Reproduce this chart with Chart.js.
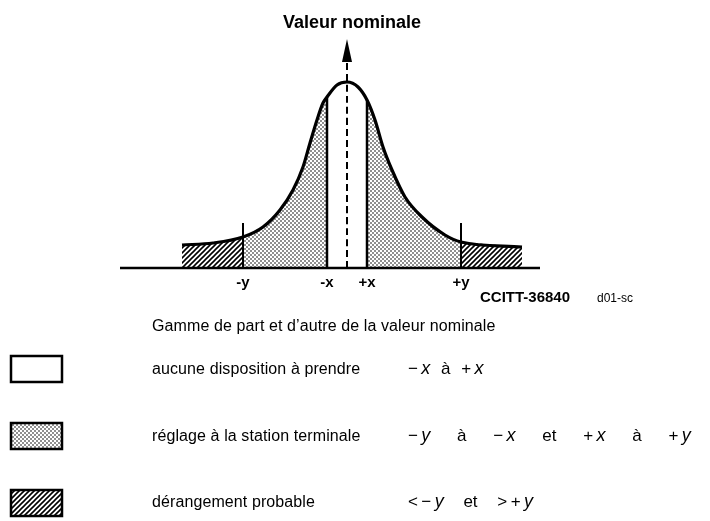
<!DOCTYPE html>
<html>
<head>
<meta charset="utf-8">
<script src="https://cdn.jsdelivr.net/npm/chart.js@4.4.1/dist/chart.umd.min.js"></script>
<style>
  body { margin: 0; background: #fff; }
  #wrap { position: relative; width: 710px; height: 521px; font-family: 'Liberation Sans', Arial, sans-serif; color: #000; }
  #chart { position: absolute; left: 0; top: 0; }
  .t { position: absolute; white-space: pre; line-height: 20px; }
  .title { font-weight: bold; font-size: 18px; }
  .leg { font-size: 16px; letter-spacing: 0.1px; }
  .rng { font-size: 17px; }
  .rng i { font-size: 18px; }
</style>
</head>
<body>
<div id="wrap">
  <canvas id="chart" width="710" height="521"></canvas>
  <div class="t title" style="left:283px; top:12px;">Valeur nominale</div>
  <div class="t" style="left:480px; top:287px; font-size:15px; font-weight:bold;">CCITT-36840</div>
  <div class="t" style="left:597px; top:288px; font-size:12px;">d01-sc</div>
  <div class="t leg" style="left:152px; top:316px;">Gamme de part et d’autre de la valeur nominale</div>
  <div class="t leg" style="left:152px; top:359px;">aucune disposition à prendre</div>
  <div class="t rng" style="left:408px; top:358px; word-spacing:6px;">−&#8201;<i>x</i> à +&#8201;<i>x</i></div>
  <div class="t leg" style="left:152px; top:426px;">réglage à la station terminale</div>
  <div class="t rng" style="left:408px; top:425px; word-spacing:22px;">−&#8201;<i>y</i> à −&#8201;<i>x</i> et +&#8201;<i>x</i> à +&#8201;<i>y</i></div>
  <div class="t leg" style="left:152px; top:492px;">dérangement probable</div>
  <div class="t rng" style="left:408px; top:491px; word-spacing:15px;">&lt;&#8201;−&#8201;<i>y</i> et &gt;&#8201;+&#8201;<i>y</i></div>
</div>
<script>
// Curve: deviation from nominal vs. height
const curveX = [-165, -134, -104, -84, -67, -54, -44, -37, -30, -24, -20, -10, 0, 11, 20, 28, 36, 45, 58, 75, 98, 114, 175];
const curveY = [23, 25, 31, 41, 58, 78, 101, 125, 148, 165, 171, 183, 186, 181, 168, 148, 121, 98, 71, 51, 33, 26, 21];

// Range limits -y, -x, +x, +y
const limitValues = [-104, -20, 20, 114];
const limitLabels = ['-y', '-x', '+x', '+y'];
const yTickHeight = 45;

const axisMin = -227;
const axisMax = 193;
const arrowTop = 229;
const arrowBase = 206;

function makeDots() {
    const c = document.createElement('canvas');
    c.width = 4; c.height = 4;
    const g = c.getContext('2d');
    g.fillStyle = '#fff';
    g.fillRect(0, 0, 4, 4);
    g.fillStyle = '#000';
    g.beginPath(); g.arc(1, 1, 0.8, 0, Math.PI * 2); g.fill();
    g.beginPath(); g.arc(3, 3, 0.8, 0, Math.PI * 2); g.fill();
    return g.createPattern(c, 'repeat');
}

function makeHatch() {
    const s = 5;
    const c = document.createElement('canvas');
    c.width = s; c.height = s;
    const g = c.getContext('2d');
    g.fillStyle = '#fff';
    g.fillRect(0, 0, s, s);
    g.strokeStyle = '#000';
    g.lineWidth = 1.6;
    g.beginPath();
    g.moveTo(0, s); g.lineTo(s, 0);
    g.moveTo(-1, 1); g.lineTo(1, -1);
    g.moveTo(s - 1, s + 1); g.lineTo(s + 1, s - 1);
    g.stroke();
    return g.createPattern(c, 'repeat');
}

function points(from, to) {
    const i0 = curveX.indexOf(from), i1 = curveX.indexOf(to);
    const out = [];
    for (let i = i0; i <= i1; i++) out.push({ x: curveX[i], y: curveY[i] });
    return out;
}

function heightAt(x) {
    return curveY[curveX.indexOf(x)];
}

document.addEventListener('DOMContentLoaded', () => {
    const dots = makeDots();
    const hatch = makeHatch();

    const base = {
        type: 'line',
        pointRadius: 0,
        borderColor: '#000',
        clip: false,
        cubicInterpolationMode: 'monotone'
    };
    const area = (data, pattern) => Object.assign({}, base, {
        data: data, fill: 'origin', backgroundColor: pattern, borderWidth: 0, order: 5
    });
    const rule = (data, width, dash) => Object.assign({}, base, {
        data: data, fill: false, borderWidth: width, borderDash: dash || [], order: 2
    });

    const datasets = [
        Object.assign({}, base, {
            data: curveX.map((x, i) => ({ x: x, y: curveY[i] })),
            fill: false, borderWidth: 3.2, order: 1
        }),
        area(points(curveX[0], limitValues[0]), hatch),
        area(points(limitValues[0], limitValues[1]), dots),
        area(points(limitValues[2], limitValues[3]), dots),
        area(points(limitValues[3], curveX[curveX.length - 1]), hatch),
        rule([{ x: axisMin, y: 0 }, { x: axisMax, y: 0 }], 2.5),
        rule([{ x: limitValues[0], y: 0 }, { x: limitValues[0], y: yTickHeight }], 2),
        rule([{ x: limitValues[3], y: 0 }, { x: limitValues[3], y: yTickHeight }], 2),
        rule([{ x: limitValues[1], y: 0 }, { x: limitValues[1], y: heightAt(limitValues[1]) }], 2.5),
        rule([{ x: limitValues[2], y: 0 }, { x: limitValues[2], y: heightAt(limitValues[2]) }], 2.5),
        rule([{ x: 0, y: 0 }, { x: 0, y: arrowBase }], 2, [7, 4])
    ];

    // arrow head on the nominal value line + legend swatches
    const extras = {
        id: 'extras',
        afterDraw(chart) {
            const ctx = chart.ctx;
            const xs = chart.scales.x, ys = chart.scales.y;
            const cx = xs.getPixelForValue(0);
            ctx.save();
            ctx.fillStyle = '#000';
            ctx.beginPath();
            ctx.moveTo(cx, ys.getPixelForValue(arrowTop));
            ctx.lineTo(cx + 5, ys.getPixelForValue(arrowBase));
            ctx.lineTo(cx - 5, ys.getPixelForValue(arrowBase));
            ctx.closePath();
            ctx.fill();

            const swatches = [[356, '#fff'], [423, dots], [490, hatch]];
            swatches.forEach(([top, fill]) => {
                ctx.fillStyle = fill;
                ctx.fillRect(11, top, 51, 26);
                ctx.lineWidth = 2.5;
                ctx.strokeStyle = '#000';
                ctx.strokeRect(11, top, 51, 26);
            });
            ctx.restore();
        }
    };

    new Chart(document.getElementById('chart'), {
        type: 'line',
        data: { datasets: datasets },
        options: {
            responsive: false,
            animation: false,
            devicePixelRatio: 1,
            layout: { padding: { left: 120, right: 170, top: 39, bottom: 223 } },
            plugins: { legend: { display: false }, tooltip: { enabled: false } },
            scales: {
                x: {
                    type: 'linear',
                    min: axisMin,
                    max: axisMax,
                    grid: { display: false, drawTicks: false },
                    border: { display: false },
                    afterBuildTicks: scale => {
                        scale.ticks = limitValues.map(v => ({ value: v }));
                    },
                    ticks: {
                        autoSkip: false,
                        maxRotation: 0,
                        padding: 6,
                        color: '#000',
                        font: { family: 'Liberation Sans', size: 15, weight: 'bold' },
                        callback: value => limitLabels[limitValues.indexOf(value)]
                    }
                },
                y: { display: false, min: 0, max: arrowTop }
            }
        },
        plugins: [extras]
    });
});
</script>
</body>
</html>
